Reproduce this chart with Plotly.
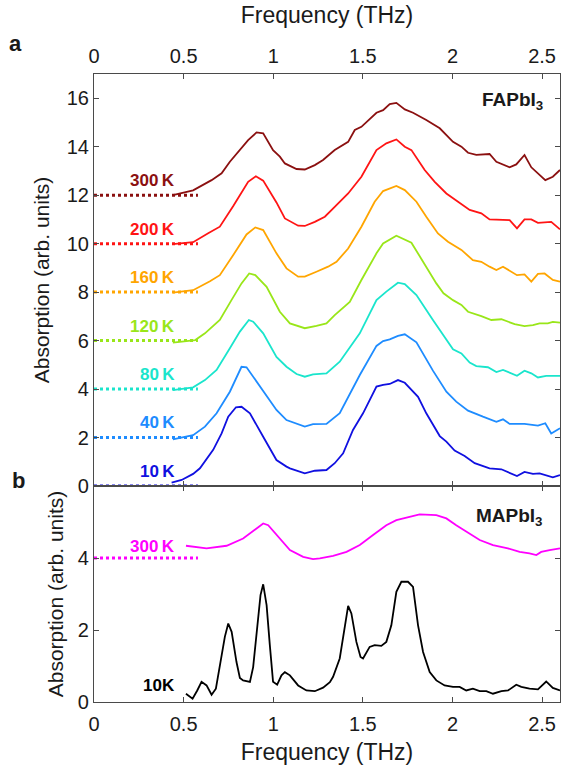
import plotly.graph_objects as go

# ---------------- data ----------------
temps_fa = ["300\u2009K", "200\u2009K", "160\u2009K", "120\u2009K", "80\u2009K", "40\u2009K", "10\u2009K"]
offsets_fa = [12, 10, 8, 6, 4, 2, 0]
colors_fa = ["#8B1010", "#FF1414", "#FFA500", "#99E619", "#1AE5CC", "#1E8CFF", "#1010E0"]

fa300_x = [0.44, 0.553, 0.656, 0.712, 0.758, 0.814, 0.86, 0.907, 0.944, 0.999, 1.037, 1.065, 1.13, 1.176, 1.232, 1.278, 1.343, 1.418, 1.455, 1.492, 1.576, 1.613, 1.65, 1.687, 1.734, 1.78, 1.854, 1.929, 2.003, 2.05, 2.087, 2.133, 2.207, 2.245, 2.319, 2.356, 2.402, 2.44, 2.477, 2.518, 2.56, 2.6]
fa300_y = [12.0, 12.2, 12.62, 12.9, 13.38, 13.86, 14.27, 14.59, 14.55, 13.86, 13.59, 13.31, 13.08, 13.06, 13.24, 13.45, 13.86, 14.2, 14.69, 14.82, 15.4, 15.51, 15.76, 15.81, 15.54, 15.4, 15.1, 14.76, 14.2, 14.0, 13.75, 13.66, 13.7, 13.38, 13.15, 13.27, 13.66, 13.15, 12.9, 12.62, 12.76, 13.04]

fa200_x = [0.44, 0.553, 0.637, 0.702, 0.777, 0.86, 0.903, 0.944, 1.018, 1.065, 1.139, 1.176, 1.232, 1.288, 1.343, 1.418, 1.492, 1.576, 1.631, 1.687, 1.734, 1.771, 1.845, 1.901, 1.966, 2.021, 2.096, 2.161, 2.207, 2.319, 2.36, 2.402, 2.44, 2.477, 2.551, 2.6]
fa200_y = [9.98, 10.06, 10.43, 10.7, 11.55, 12.55, 12.78, 12.6, 11.7, 11.04, 10.74, 10.73, 10.9, 11.11, 11.52, 12.07, 12.76, 13.86, 14.14, 14.3, 14.0, 13.86, 13.04, 12.55, 12.07, 11.77, 11.39, 11.25, 11.0, 10.97, 10.63, 11.0, 11.0, 10.86, 10.9, 10.59]

fa160_x = [0.44, 0.553, 0.647, 0.702, 0.777, 0.851, 0.9, 0.944, 1.018, 1.074, 1.139, 1.176, 1.241, 1.306, 1.353, 1.418, 1.492, 1.566, 1.613, 1.687, 1.734, 1.799, 1.854, 1.919, 1.975, 2.05, 2.114, 2.161, 2.207, 2.245, 2.282, 2.319, 2.36, 2.402, 2.44, 2.477, 2.514, 2.56, 2.6]
fa160_y = [7.98, 8.08, 8.45, 8.7, 9.53, 10.38, 10.67, 10.56, 9.6, 8.98, 8.64, 8.64, 8.84, 9.05, 9.25, 9.8, 10.7, 11.73, 12.17, 12.38, 12.21, 11.73, 11.11, 10.42, 10.08, 9.74, 9.32, 9.25, 9.05, 8.91, 9.05, 8.87, 8.7, 8.73, 8.43, 8.75, 8.77, 8.5, 8.43]

fa120_x = [0.44, 0.565, 0.619, 0.702, 0.767, 0.823, 0.866, 0.9, 0.963, 1.037, 1.093, 1.148, 1.176, 1.241, 1.297, 1.343, 1.427, 1.492, 1.576, 1.613, 1.687, 1.771, 1.836, 1.91, 1.95, 2.003, 2.05, 2.087, 2.161, 2.217, 2.273, 2.347, 2.402, 2.449, 2.486, 2.532, 2.56, 2.6]
fa120_y = [5.92, 6.02, 6.3, 6.85, 7.67, 8.36, 8.77, 8.7, 8.22, 7.19, 6.71, 6.57, 6.51, 6.61, 6.71, 7.05, 7.6, 8.5, 9.6, 10.01, 10.33, 10.04, 9.25, 8.36, 7.95, 7.67, 7.47, 7.19, 7.01, 6.85, 6.88, 6.68, 6.6, 6.64, 6.71, 6.71, 6.77, 6.74]

fa80_x = [0.44, 0.553, 0.619, 0.684, 0.758, 0.814, 0.864, 0.888, 0.944, 1.018, 1.074, 1.13, 1.176, 1.222, 1.297, 1.371, 1.483, 1.576, 1.631, 1.696, 1.734, 1.799, 1.891, 2.003, 2.05, 2.096, 2.133, 2.198, 2.245, 2.282, 2.36, 2.402, 2.44, 2.477, 2.523, 2.6]
fa80_y = [3.96, 4.07, 4.37, 4.79, 5.68, 6.37, 6.85, 6.78, 6.3, 5.33, 4.92, 4.62, 4.51, 4.61, 4.65, 5.13, 6.3, 7.67, 8.02, 8.39, 8.33, 7.88, 6.85, 5.64, 5.47, 5.09, 4.95, 4.9, 4.7, 4.79, 4.55, 4.76, 4.65, 4.48, 4.54, 4.54]

fa40_x = [0.44, 0.553, 0.619, 0.684, 0.758, 0.823, 0.851, 0.888, 0.953, 1.018, 1.074, 1.176, 1.222, 1.297, 1.371, 1.483, 1.576, 1.613, 1.65, 1.696, 1.734, 1.799, 1.891, 1.966, 2.021, 2.087, 2.17, 2.245, 2.282, 2.319, 2.402, 2.477, 2.518, 2.551, 2.6]
fa40_y = [1.92, 2.1, 2.45, 3.0, 3.89, 4.92, 4.9, 4.51, 3.82, 3.14, 2.72, 2.45, 2.55, 2.56, 3.0, 4.58, 5.78, 5.98, 6.05, 6.19, 6.26, 5.93, 4.76, 3.89, 3.48, 3.11, 2.86, 2.65, 2.75, 2.56, 2.56, 2.49, 2.59, 2.17, 2.38]

fa10_x = [0.433, 0.489, 0.553, 0.591, 0.665, 0.712, 0.749, 0.792, 0.823, 0.87, 0.944, 1.018, 1.074, 1.093, 1.176, 1.232, 1.297, 1.343, 1.39, 1.445, 1.501, 1.576, 1.613, 1.65, 1.696, 1.734, 1.808, 1.854, 1.929, 1.966, 2.012, 2.068, 2.124, 2.207, 2.273, 2.319, 2.36, 2.402, 2.449, 2.486, 2.523, 2.56, 2.6]
fa10_y = [0.14, 0.25, 0.5, 0.73, 1.49, 2.17, 2.86, 3.25, 3.27, 3.0, 2.03, 1.07, 0.8, 0.73, 0.52, 0.63, 0.66, 0.94, 1.35, 2.31, 3.0, 4.1, 4.17, 4.21, 4.37, 4.26, 3.68, 3.0, 2.06, 1.83, 1.46, 1.24, 0.94, 0.73, 0.69, 0.55, 0.41, 0.58, 0.5, 0.52, 0.45, 0.36, 0.45]

temps_ma = ["300\u2009K", "10K"]
offsets_ma = [4, None]
colors_ma = ["#FF00FF", "#000000"]

ma300_x = [0.513, 0.628, 0.74, 0.832, 0.907, 0.944, 0.972, 1.018, 1.093, 1.167, 1.222, 1.26, 1.334, 1.409, 1.483, 1.557, 1.631, 1.687, 1.743, 1.817, 1.91, 1.966, 2.021, 2.077, 2.152, 2.226, 2.309, 2.375, 2.43, 2.468, 2.495, 2.542, 2.6]
ma300_y = [4.34, 4.27, 4.34, 4.54, 4.82, 4.96, 4.91, 4.64, 4.22, 4.03, 3.97, 3.99, 4.06, 4.17, 4.36, 4.64, 4.91, 5.05, 5.12, 5.21, 5.19, 5.10, 4.91, 4.73, 4.5, 4.36, 4.27, 4.17, 4.13, 4.08, 4.17, 4.22, 4.27]

ma10_x = [0.513, 0.55, 0.576, 0.6, 0.628, 0.656, 0.68, 0.702, 0.73, 0.749, 0.768, 0.795, 0.814, 0.832, 0.87, 0.888, 0.916, 0.929, 0.944, 0.963, 0.981, 0.999, 1.022, 1.046, 1.065, 1.093, 1.139, 1.185, 1.232, 1.278, 1.316, 1.334, 1.371, 1.399, 1.418, 1.436, 1.464, 1.487, 1.501, 1.538, 1.566, 1.603, 1.631, 1.659, 1.687, 1.715, 1.752, 1.78, 1.808, 1.836, 1.873, 1.91, 1.956, 2.003, 2.04, 2.077, 2.114, 2.152, 2.189, 2.226, 2.273, 2.31, 2.356, 2.384, 2.43, 2.477, 2.523, 2.56, 2.6]
ma10_y = [0.23, 0.09, 0.32, 0.56, 0.46, 0.2, 0.37, 1.02, 1.81, 2.18, 1.95, 1.11, 0.67, 0.6, 0.56, 0.97, 2.32, 2.97, 3.27, 2.69, 1.58, 0.56, 0.48, 0.74, 0.83, 0.74, 0.46, 0.32, 0.3, 0.4, 0.55, 0.7, 1.21, 2.13, 2.67, 2.46, 1.67, 1.25, 1.21, 1.53, 1.58, 1.56, 1.67, 2.13, 3.06, 3.34, 3.34, 3.2, 2.13, 1.39, 0.83, 0.6, 0.46, 0.42, 0.42, 0.32, 0.37, 0.3, 0.3, 0.23, 0.3, 0.32, 0.48, 0.42, 0.37, 0.35, 0.57, 0.39, 0.32]

baseline_x = [0, 0.58]
freq_ticks = [0, 0.5, 1, 1.5, 2, 2.5]
freq_ticktext = ["0", "0.5", "1", "1.5", "2", "2.5"]
top_yticks = [0, 2, 4, 6, 8, 10, 12, 14, 16]
bottom_yticks = [0, 2, 4]

# ---------------- figure ----------------
FONT = "Liberation Sans, Arial, Helvetica, sans-serif"
AXC = "#4a4a4a"
TXT = "#1a1a1a"

fig = go.Figure()

fa_x = [fa300_x, fa200_x, fa160_x, fa120_x, fa80_x, fa40_x, fa10_x]
fa_y = [fa300_y, fa200_y, fa160_y, fa120_y, fa80_y, fa40_y, fa10_y]

for xs, ys, off, col in zip(fa_x, fa_y, offsets_fa, colors_fa):
    fig.add_trace(go.Scatter(x=baseline_x, y=[off, off], mode="lines",
                             line=dict(color=col, width=3, dash="dot"),
                             xaxis="x", yaxis="y", hoverinfo="skip"))
    fig.add_trace(go.Scatter(x=xs, y=ys, mode="lines",
                             line=dict(color=col, width=1.8),
                             xaxis="x", yaxis="y"))

fig.add_trace(go.Scatter(x=baseline_x, y=[offsets_ma[0]] * 2, mode="lines",
                         line=dict(color=colors_ma[0], width=3, dash="dot"),
                         xaxis="x2", yaxis="y2", hoverinfo="skip"))
fig.add_trace(go.Scatter(x=ma300_x, y=ma300_y, mode="lines",
                         line=dict(color=colors_ma[0], width=1.8),
                         xaxis="x2", yaxis="y2"))
fig.add_trace(go.Scatter(x=ma10_x, y=ma10_y, mode="lines",
                         line=dict(color=colors_ma[1], width=1.8),
                         xaxis="x2", yaxis="y2"))

annotations = []
for t, off, col in zip(temps_fa, offsets_fa, colors_fa):
    annotations.append(dict(x=0.462, y=off + 0.6, xref="x", yref="y", text=f"<b>{t}</b>",
                            showarrow=False, xanchor="right", yanchor="middle",
                            font=dict(family=FONT, size=17, color=col)))
annotations.append(dict(x=0.462, y=4.31, xref="x2", yref="y2", text=f"<b>{temps_ma[0]}</b>",
                        showarrow=False, xanchor="right", yanchor="middle",
                        font=dict(family=FONT, size=17, color=colors_ma[0])))
annotations.append(dict(x=0.462, y=0.45, xref="x2", yref="y2", text=f"<b>{temps_ma[1]}</b>",
                        showarrow=False, xanchor="right", yanchor="middle",
                        font=dict(family=FONT, size=17, color=colors_ma[1])))
annotations.append(dict(x=2.515, y=15.9, xref="x", yref="y", text="<b>FAPbI<sub>3</sub></b>",
                        showarrow=False, xanchor="right", yanchor="middle",
                        font=dict(family=FONT, size=19, color=TXT)))
annotations.append(dict(x=2.515, y=5.15, xref="x2", yref="y2", text="<b>MAPbI<sub>3</sub></b>",
                        showarrow=False, xanchor="right", yanchor="middle",
                        font=dict(family=FONT, size=19, color=TXT)))
annotations.append(dict(x=-0.168, y=1.048, xref="paper", yref="paper", text="<b>a</b>",
                        showarrow=False, xanchor="center", yanchor="middle",
                        font=dict(family=FONT, size=22, color=TXT)))
annotations.append(dict(x=-0.163, y=0.352, xref="paper", yref="paper", text="<b>b</b>",
                        showarrow=False, xanchor="center", yanchor="middle",
                        font=dict(family=FONT, size=22, color=TXT)))

axis_common = dict(showline=True, linecolor=AXC, linewidth=1.2, mirror="ticks",
                   ticks="inside", ticklen=5, tickwidth=1.2, tickcolor=AXC,
                   showgrid=False, zeroline=False,
                   tickfont=dict(family=FONT, size=20, color=TXT))

split = 216 / 628

fig.update_layout(
    width=561, height=765,
    margin=dict(l=94, r=1, t=74, b=63),
    paper_bgcolor="white", plot_bgcolor="white",
    showlegend=False,
    annotations=annotations,
    xaxis=dict(anchor="y", domain=[0, 1], range=[0, 2.6], side="top",
               tickvals=freq_ticks, ticktext=freq_ticktext, ticklabelstandoff=2,
               title=dict(text="Frequency (THz)", font=dict(family=FONT, size=23, color=TXT), standoff=14),
               **axis_common),
    yaxis=dict(anchor="x", domain=[split, 1], range=[0, 17], tickvals=top_yticks,
               title=dict(text="Absorption (arb. units)", font=dict(family=FONT, size=21, color=TXT), standoff=11),
               **axis_common),
    xaxis2=dict(anchor="y2", domain=[0, 1], range=[0, 2.6],
                tickvals=freq_ticks, ticktext=freq_ticktext, ticklabelstandoff=4,
                title=dict(text="Frequency (THz)", font=dict(family=FONT, size=23, color=TXT), standoff=9),
                **axis_common),
    yaxis2=dict(anchor="x2", domain=[0, split], range=[0, 6], tickvals=bottom_yticks,
                title=dict(text="Absorption (arb. units)", font=dict(family=FONT, size=21, color=TXT), standoff=8),
                **axis_common),
)

fig.write_html("out.html", config={"displayModeBar": False},
               post_script="document.body.style.margin='0';document.body.style.padding='0';")
